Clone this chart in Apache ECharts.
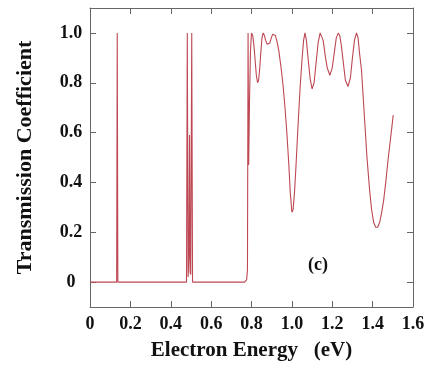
<!DOCTYPE html>
<html>
<head>
<meta charset="utf-8">
<script src="https://cdn.jsdelivr.net/npm/echarts@6/dist/echarts.min.js"></script>
<style>
  html, body { margin: 0; padding: 0; background: #fff; }
  #chart { width: 429px; height: 370px; }
</style>
</head>
<body>
<div id="chart"></div>
<script>
// electron energy (eV)
const energy = [
  0, 0.132, 0.135, 0.138,
  0.478, 0.482, 0.486, 0.490, 0.493, 0.496, 0.499, 0.504, 0.508,
  0.766, 0.776, 0.780, 0.783, 0.786, 0.790, 0.795, 0.800,
  0.806, 0.812, 0.818, 0.824, 0.830, 0.835, 0.840, 0.846, 0.852, 0.858,
  0.864, 0.870, 0.877, 0.884, 0.891, 0.898, 0.905, 0.912, 0.918,
  0.925, 0.935, 0.945, 0.955, 0.965, 0.975, 0.985, 0.992, 1.000,
  1.006, 1.013, 1.020, 1.030, 1.040, 1.050, 1.058, 1.065,
  1.072, 1.080, 1.090, 1.100, 1.110, 1.120, 1.130, 1.140, 1.147,
  1.155, 1.165, 1.175, 1.188, 1.200, 1.210, 1.220, 1.230,
  1.237, 1.245, 1.255, 1.265, 1.278, 1.290, 1.300, 1.310, 1.320,
  1.328, 1.335, 1.345, 1.355, 1.365, 1.372, 1.385, 1.395,
  1.405, 1.415, 1.425, 1.435, 1.445, 1.455, 1.465, 1.475, 1.485, 1.495, 1.502
]
// transmission coefficient at each energy
const transmission = [
  0, 0, 1.0, 0,
  0, 1.0, 0.02, 0.1, 0.59, 0.04, 0.03, 1.0, 0,
  0, 0.01, 0.05, 1.0, 0.47, 0.72, 0.93, 1.0,
  0.99, 0.95, 0.89, 0.83, 0.80, 0.81, 0.85, 0.92, 0.98, 1.0,
  0.99, 0.97, 0.955, 0.95, 0.96, 0.98, 0.995, 1.0, 0.99,
  0.97, 0.93, 0.87, 0.80, 0.71, 0.60, 0.47, 0.36, 0.28,
  0.29, 0.36, 0.46, 0.62, 0.77, 0.89, 0.97, 1.0,
  0.97, 0.90, 0.82, 0.775, 0.80, 0.88, 0.96, 1.0, 1.0,
  0.97, 0.91, 0.86, 0.83, 0.86, 0.92, 0.98, 1.0,
  0.99, 0.95, 0.88, 0.81, 0.785, 0.82, 0.90, 0.97, 1.0,
  0.98, 0.92, 0.85, 0.72, 0.59, 0.50, 0.37, 0.29,
  0.24, 0.22, 0.22, 0.24, 0.28, 0.33, 0.40, 0.48, 0.55, 0.62, 0.67
]
// y ticks / labels
const yTicks = [0, 0.2, 0.4, 0.6, 0.8, 1.0]

const font = "'Liberation Serif', 'Times New Roman', serif"
const frameColor = '#666'
const lineColor = '#bd4853'

const fmt = (v) => (v === 0 ? '0' : v.toFixed(1))

const chart = echarts.init(document.getElementById('chart'))

// frame: all four axes drawn at the grid edges
const frameAxis = {
  axisLine: { show: true, onZero: false, lineStyle: { color: frameColor, width: 1 } },
  splitLine: { show: false },
}

chart.setOption({
  backgroundColor: '#fff',
  animation: false,
  grid: { left: 90, right: 16, top: 8, bottom: 63 },
  xAxis: [
    {
      ...frameAxis,
      type: 'value',
      position: 'bottom',
      min: 0,
      max: 1.6,
      interval: 0.2,
      axisTick: { inside: true, length: 6, lineStyle: { color: frameColor } },
      axisLabel: {
        margin: 8,
        formatter: fmt,
        color: '#111',
        fontFamily: font,
        fontWeight: 'bold',
        fontSize: 18,
      },
      name: 'Electron Energy   (eV)',
      nameLocation: 'middle',
      nameGap: 33,
      nameTextStyle: { color: '#111', fontFamily: font, fontWeight: 'bold', fontSize: 21 },
    },
    {
      ...frameAxis,
      type: 'value',
      position: 'top',
      min: 0,
      max: 1.6,
      interval: 0.2,
      axisTick: { inside: true, length: 6, lineStyle: { color: frameColor } },
      axisLabel: { show: false },
    },
  ],
  yAxis: [
    {
      ...frameAxis,
      type: 'value',
      position: 'left',
      min: -0.1,
      max: 1.1,
      axisTick: { inside: true, length: 6, customValues: yTicks, lineStyle: { color: frameColor } },
      axisLabel: {
        customValues: yTicks,
        formatter: fmt,
        align: 'center',
        margin: 19,
        color: '#111',
        fontFamily: font,
        fontWeight: 'bold',
        fontSize: 18,
      },
      name: 'Transmission Coefficient',
      nameLocation: 'middle',
      nameGap: 54,
      nameTextStyle: { color: '#111', fontFamily: font, fontWeight: 'bold', fontSize: 22 },
    },
    {
      ...frameAxis,
      type: 'value',
      position: 'right',
      min: -0.1,
      max: 1.1,
      axisTick: { inside: true, length: 6, customValues: yTicks, lineStyle: { color: frameColor } },
      axisLabel: { show: false },
    },
  ],
  graphic: [
    {
      type: 'text',
      left: 308,
      top: 256,
      style: { text: '(c)', fill: '#111', font: `bold 18px ${font}` },
    },
  ],
  series: [
    {
      type: 'line',
      xAxisIndex: 0,
      yAxisIndex: 0,
      data: energy.map((e, i) => [e, transmission[i]]),
      showSymbol: false,
      smooth: false,
      lineStyle: { color: lineColor, width: 1.1 },
    },
  ],
})
</script>
</body>
</html>
